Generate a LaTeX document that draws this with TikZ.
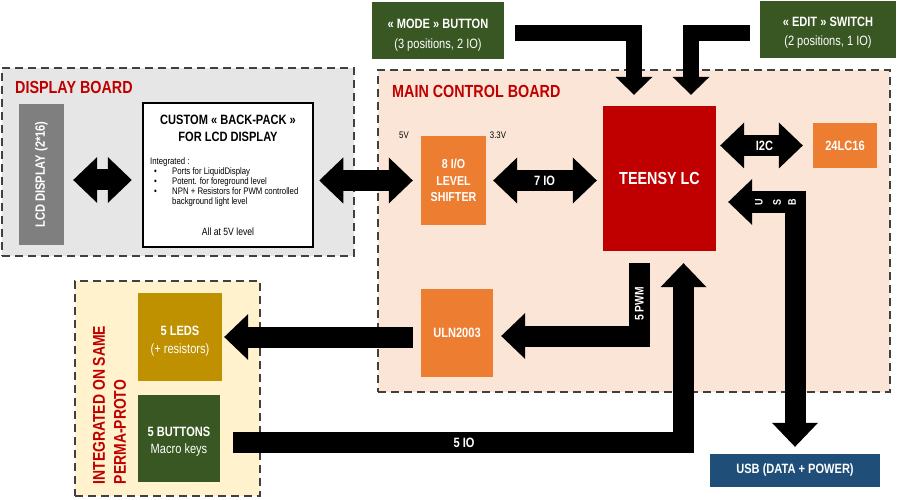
\documentclass[tikz,border=0pt]{standalone}
\usepackage{fontspec}
\setmainfont[FakeStretch=0.82]{Liberation Sans}
\usetikzlibrary{arrows.meta,calc}
\definecolor{cred}{HTML}{C00000}
\definecolor{corange}{HTML}{ED7D31}
\definecolor{cgreen}{HTML}{385723}
\definecolor{cgold}{HTML}{BF9000}
\definecolor{cblue}{HTML}{1F4E79}
\definecolor{cgrey}{HTML}{7F7F7F}
\definecolor{bgdisp}{HTML}{E7E6E6}
\definecolor{bgmain}{HTML}{FBE5D6}
\definecolor{bgperma}{HTML}{FFF2CC}
\definecolor{cdash}{HTML}{404040}
\begin{document}
\begin{tikzpicture}[x=1pt,y=-1pt,
  board/.style={draw=cdash, line width=2.2pt, dash pattern=on 8pt off 5pt, inner sep=0pt},
  blk/.style={inner sep=0pt, text=white, align=center, font=\bfseries\fontsize{13.5}{16}\selectfont},
  btxt/.style={inner sep=0pt, text=white, align=center},
  boardtitle/.style={inner sep=0pt, anchor=west, text=cred, font=\bfseries\fontsize{17.5}{21}\selectfont},
  fat/.style={line width=21pt, -{Triangle[length=24pt,width=46pt,line width=0pt]}},
  dfat/.style={line width=21pt, {Triangle[length=24pt,width=46pt,line width=0pt]}-{Triangle[length=24pt,width=46pt,line width=0pt]}},
  slim/.style={line width=16pt, -{Triangle[length=18pt,width=37pt,line width=0pt]}},
  albl/.style={inner sep=0pt, text=white, font=\bfseries\fontsize{13.5}{16}\selectfont},
]
\fill[white] (0,0) rectangle (900,500);
\useasboundingbox (0,0) rectangle (900,500);

% boards
\node[board, fill=bgdisp, minimum width=352, minimum height=188] (dispboard) at (178,162) {};
\node[boardtitle] (disptitle) at (15,87) {DISPLAY BOARD};
\node[board, fill=bgmain, minimum width=512, minimum height=322] (mainboard) at (634,231) {};
\node[boardtitle] (maintitle) at (392,91) {MAIN CONTROL BOARD};
\node[board, fill=bgperma, minimum width=185, minimum height=215] (permaboard) at (167.5,388.5) {};
\node[rotate=90, text=cred, align=left, inner sep=0pt, font=\bfseries\fontsize{17}{21}\selectfont] (permatitle) at (109.5,405) {INTEGRATED ON SAME\\PERMA-PROTO};

% display board content
\node[blk, fill=cgrey, minimum width=45, minimum height=141] (lcd) at (41.5,174.5) {};
\node[albl, rotate=90] (lcdtext) at (lcd.center) {LCD DISPLAY (2*16)};
\node[draw=black, line width=2.5pt, fill=white, minimum width=170, minimum height=144, inner sep=0pt] (backpack) at (228,175) {};
\node[inner sep=0pt, align=center, font=\bfseries\fontsize{13.5}{17}\selectfont] (bptitle) at (228,128.5) {CUSTOM « BACK-PACK »\\FOR LCD DISPLAY};
\node[anchor=north west, inner sep=0pt, font=\fontsize{9.5}{10}\selectfont] (bplist) at (150,157) {%
\begin{tabular}{@{}p{22pt}@{}l@{}}
\multicolumn{2}{@{}l@{}}{Integrated :}\\
\hspace{4pt}\textbullet & Ports for LiquidDisplay\\
\hspace{4pt}\textbullet & Potent. for foreground level\\
\hspace{4pt}\textbullet & NPN + Resistors for PWM controlled\\
 & background light level
\end{tabular}};
\node[inner sep=0pt, font=\fontsize{10.5}{12}\selectfont] (bp5v) at (228,232) {All at 5V level};

% top inputs
\node[blk, fill=cgreen, minimum width=132, minimum height=57] (mode) at (438,30.5) {};
\node[btxt, font=\fontsize{13.5}{20}\selectfont] (modetext) at ([yshift=-4.5pt]mode.center) {\textbf{« MODE » BUTTON}\\(3 positions, 2 IO)};
\node[blk, fill=cgreen, minimum width=136, minimum height=57] (edit) at (828,29.5) {};
\node[btxt, font=\fontsize{13.5}{19}\selectfont] (edittext) at ([yshift=-3.5pt]edit.center) {\textbf{« EDIT » SWITCH}\\(2 positions, 1 IO)};

% main board content
\node[blk, fill=corange, minimum width=65, minimum height=89, font=\bfseries\fontsize{13}{16.5}\selectfont] (ls) at (453.5,180.5) {8 I/O\\LEVEL\\SHIFTER};
\node[inner sep=0pt, font=\fontsize{9.5}{10}\selectfont] (v5) at (404,135) {5V};
\node[inner sep=0pt, font=\fontsize{9.5}{10}\selectfont] (v33) at (498,135) {3.3V};
\node[blk, fill=cred, minimum width=113, minimum height=145, font=\bfseries\fontsize{17.5}{20}\selectfont] (teensy) at (659.5,178.5) {TEENSY LC};
\node[blk, fill=corange, minimum width=64, minimum height=45] (eeprom) at (845,145.5) {24LC16};
\node[blk, fill=corange, minimum width=72, minimum height=88] (uln) at (457,333) {ULN2003};

% perma-proto content
\node[blk, fill=cgold, minimum width=84, minimum height=88] (leds) at (180,337) {};
\node[btxt, font=\fontsize{13.5}{18}\selectfont] (ledstext) at ([yshift=-4.5pt]leds.center) {\textbf{5 LEDS}\\(+ resistors)};
\node[blk, fill=cgreen, minimum width=82, minimum height=87] (btns) at (179,438.5) {};
\node[btxt, font=\fontsize{13.5}{17}\selectfont] (btnstext) at ([yshift=-3.5pt]btns.center) {\textbf{5 BUTTONS}\\Macro keys};

% usb
\node[blk, fill=cblue, minimum width=170, minimum height=33] (usb) at (795,470.5) {USB (DATA + POWER)};

% connectors
\draw[dfat, shorten <=9pt, shorten >=10pt] ([yshift=-5.5pt]lcd.east) -- ([yshift=-5pt]backpack.west);
\draw[dfat, shorten <=5pt, shorten >=8pt] (backpack.east |- ls.west) -- (ls.west);
\draw[dfat, shorten <=7pt, shorten >=6pt] (ls.east) -- (teensy.west |- ls.east);
\node[albl] (l7io) at ($(ls.east)!0.5!(teensy.west |- ls.east)$) {7 IO};
\draw[dfat, shorten <=4pt, shorten >=10pt] (teensy.east |- eeprom.west) -- (eeprom.west);
\node[albl] (li2c) at ($(teensy.east |- eeprom.west)!0.5!(eeprom.west)$) {I2C};
\draw[slim, shorten >=11pt] ([shift={(11,2.5)}]mode.east) -| ([xshift=-25.5pt]teensy.north);
\draw[slim, shorten >=11pt] ([shift={(-10,4)}]edit.west) -| ([xshift=31.5pt]teensy.north);
\draw[dfat, shorten <=12pt, shorten >=7pt] ([yshift=-23.5pt]teensy.east) -| (usb.north);
\node[albl, rotate=90, font=\bfseries\fontsize{11}{12}\selectfont] (usbU) at (759,202.5) {U};
\node[albl, rotate=90, font=\bfseries\fontsize{11}{12}\selectfont] (usbS) at (777,202.5) {S};
\node[albl, rotate=90, font=\bfseries\fontsize{11}{12}\selectfont] (usbB) at (792,202.5) {B};
\draw[fat, shorten <=12pt, shorten >=8pt] ([xshift=-20pt]teensy.south) |- ([shift={(0,3)}]uln.east);
\node[albl, rotate=90, font=\bfseries\fontsize{12.5}{14}\selectfont] (lpwm) at (639.5,304) {5 PWM};
\draw[fat, shorten <=8pt, shorten >=2pt] (uln.west |- leds.east) -- (leds.east);
\draw[fat, shorten <=13pt, shorten >=12pt] ([yshift=-4pt]btns.east) -| ([xshift=24pt]teensy.south);
\node[albl] (l5io) at (464,443) {5 IO};
\end{tikzpicture}
\end{document}
